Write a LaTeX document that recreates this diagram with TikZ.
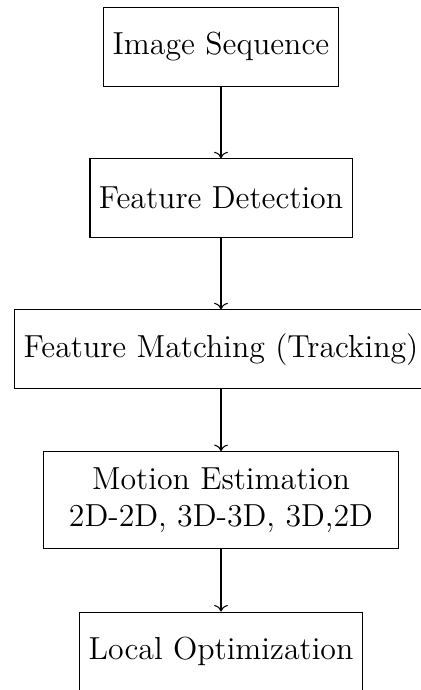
\documentclass[tikz,border=0pt]{standalone}
\usepackage{tikz}
\usetikzlibrary{arrows.meta}

\begin{document}
\begin{tikzpicture}[>=To,font=\large,
  stage/.style={draw,minimum height=29.5pt,inner ysep=6pt,align=center}]
\useasboundingbox (-2.926,0.622) rectangle (2.635,-8.513);
\node[stage] (seq) at (0,0) {Image Sequence};
\node[stage] (detect) at (0,-2) {Feature Detection};
\node[stage] (match) at (0,-4) {Feature Matching (Tracking)};
\node[stage,minimum width=134pt] (motion) at (0,-6) {Motion Estimation\\2D-2D, 3D-3D, 3D,2D};
\node[stage] (optim) at (0,-8) {Local Optimization};
\draw[->] (seq) -- (detect);
\draw[->] (detect) -- (match);
\draw[->] (match) -- (motion);
\draw[->] (motion) -- (optim);
\end{tikzpicture}
\end{document}
